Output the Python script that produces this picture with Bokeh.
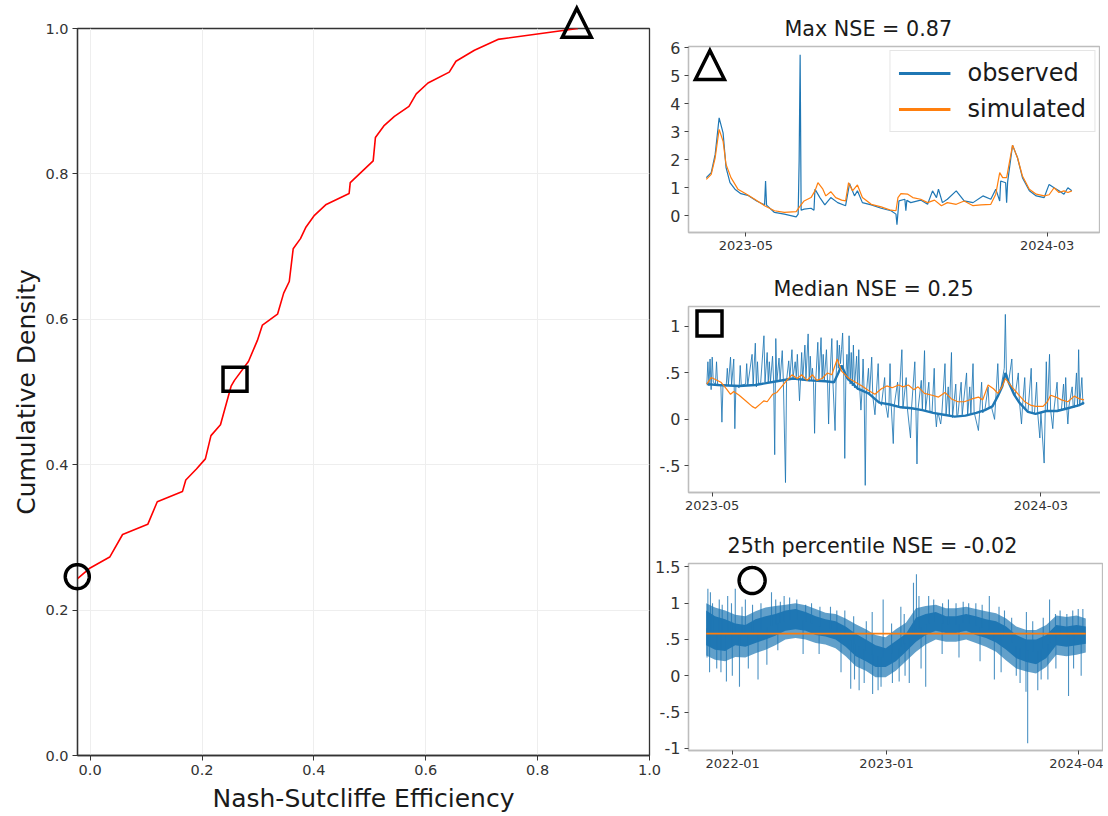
import numpy as np
import pandas as pd
from bokeh.plotting import figure
from bokeh.layouts import row, column
from bokeh.models import (Range1d, FixedTicker, DatetimeTickFormatter, Legend, LegendItem,
                          PolyAnnotation)
from bokeh.embed import file_html
from bokeh.resources import INLINE

FONT = "DejaVu Sans"
BLUE = "#1f77b4"
ORANGE = "#ff7f0e"

# ---------------- CDF panel ----------------
cdf_nse = [-0.023, 0.0, 0.035, 0.058, 0.103, 0.12, 0.165, 0.171, 0.19, 0.206, 0.216,
           0.233, 0.252, 0.258, 0.283, 0.299, 0.308, 0.335, 0.346, 0.356, 0.363, 0.376,
           0.386, 0.401, 0.422, 0.463, 0.465, 0.506, 0.510, 0.525, 0.544, 0.57, 0.583,
           0.604, 0.642, 0.654, 0.687, 0.729, 0.872]
cdf_density = [0.243, 0.258, 0.273, 0.304, 0.318, 0.349, 0.363, 0.379, 0.394, 0.408, 0.44,
               0.455, 0.508, 0.516, 0.542, 0.571, 0.592, 0.607, 0.636, 0.652, 0.697, 0.711,
               0.727, 0.743, 0.758, 0.773, 0.788, 0.818, 0.85, 0.866, 0.879, 0.893, 0.91,
               0.925, 0.94, 0.955, 0.970, 0.985, 1.0]
marker_nse = [0.87, 0.259, -0.023]
marker_density = [1.008, 0.5175, 0.246]
marker_shapes = ["triangle", "square", "circle"]
marker_sizes = [29, 24, 24]
cdf_ticks = [0.0, 0.2, 0.4, 0.6, 0.8, 1.0]
cdf_tick_labels = ["0.0", "0.2", "0.4", "0.6", "0.8", "1.0"]

# ---------------- top panel (max NSE) ----------------
top_title = "Max NSE = 0.87"
top_start = "2023-03-22"
top_obs_day = [0, 5, 9, 13, 17, 20, 24, 29, 35, 42, 51, 59, 60, 61, 69, 79, 91, 93, 94, 95, 96,
               99, 106, 109, 110, 115, 120, 126, 133, 141, 145, 150, 153, 158, 167, 177, 187,
               192, 193, 195, 201, 202, 203, 207, 217, 224, 229, 233, 235, 239, 244, 253, 261,
               270, 280, 288, 293, 297, 298, 303, 304, 305, 310, 315, 320, 327, 334, 342, 347,
               352, 357, 362, 366, 370]
top_obs_val = [1.36, 1.54, 2.19, 3.49, 2.96, 1.72, 1.18, 0.95, 0.79, 0.73, 0.53, 0.39, 1.24,
               0.38, 0.12, 0.06, -0.04, 0.06, 1.98, 5.74, 0.2, 0.24, 0.27, 0.20, 0.95, 0.65,
               0.39, 0.65, 0.47, 0.36, 1.15, 0.71, 0.89, 0.47, 0.39, 0.27, 0.18, 0.06, -0.32,
               0.53, 0.59, 0.18, 0.55, 0.47, 0.56, 0.41, 0.89, 0.65, 0.95, 0.47, 0.59, 0.89,
               0.53, 0.47, 0.71, 0.59, 0.95, 0.53, 1.24, 1.18, 0.47, 1.2, 2.52, 2.07, 1.36,
               0.89, 0.71, 0.65, 1.12, 1.0, 0.89, 0.77, 1.0, 0.89]
top_sim_day = [0, 5, 9, 13, 17, 20, 25, 32, 40, 49, 59, 69, 79, 91, 94, 99, 106, 110, 113, 118,
               121, 126, 131, 137, 141, 144, 148, 153, 158, 167, 177, 187, 192, 194, 197, 204,
               209, 217, 224, 231, 238, 244, 253, 261, 270, 278, 288, 293, 297, 300, 304, 310,
               315, 320, 327, 334, 342, 347, 352, 357, 362, 366, 370]
top_sim_val = [1.3, 1.48, 2.07, 3.08, 2.66, 1.83, 1.36, 0.95, 0.79, 0.59, 0.36, 0.18, 0.12,
               0.15, 0.3, 0.53, 0.65, 0.89, 1.18, 0.95, 0.71, 0.86, 0.65, 0.56, 0.53, 1.18,
               0.89, 1.1, 0.65, 0.41, 0.32, 0.2, 0.18, 0.65, 0.79, 0.77, 0.65, 0.59, 0.47,
               0.56, 0.36, 0.47, 0.41, 0.53, 0.36, 0.39, 0.41, 0.77, 1.54, 1.36, 1.36, 2.52,
               2.07, 1.42, 0.95, 0.77, 0.71, 0.75, 1.0, 0.83, 0.89, 0.83, 0.89]
top_xlim = ["2023-03-04", "2024-04-23"]
top_ylim = [-0.595, 6.036]
top_xticks = ["2023-05-01", "2024-03-01"]
top_yticks = [0, 1, 2, 3, 4, 5, 6]
top_ylabels = ["0", "1", "2", "3", "4", "5", "6"]
top_marker = ["2023-03-25 16:00", 5.376, "triangle", 29]
legend_labels = ["observed", "simulated"]

# ---------------- middle panel (median NSE) ----------------
mid_title = "Median NSE = 0.25"
mid_start = "2023-04-26"
# observed: (day since start, value)
mid_obs = [
    (0, 0.38), (1, 0.62), (2, 0.36), (3, 0.65), (4, 0.32), (5, 0.67), (6, 0.40), (8, 0.38),
    (9, 0.62), (10, 0.38), (13, 0.37), (14, -0.03), (15, 0.37), (18, 0.36), (19, 0.55),
    (20, 0.37), (22, 0.67), (23, 0.37), (25, 0.65), (26, -0.10), (27, 0.37), (30, 0.34),
    (31, 0.58), (32, 0.36), (33, 0.37), (36, 0.38), (37, 0.60), (38, 0.37), (42, 0.70),
    (43, 0.37), (45, 0.82), (46, 0.35), (47, 0.62), (48, 0.38), (50, 0.40), (53, 0.90),
    (54, 0.40), (56, 0.72), (57, 0.40), (58, 0.62), (59, 0.40), (61, 0.68), (62, 0.41),
    (63, -0.38), (64, 0.87), (65, 0.41), (67, 0.66), (68, 0.42), (70, 0.74), (71, 0.42),
    (73, -0.68), (74, 0.42), (76, 0.63), (77, 0.44), (79, 0.75), (80, 0.45), (82, 0.62),
    (83, 0.46), (84, 0.70), (85, 0.45), (86, 0.20), (87, 0.44), (88, 0.72), (89, 0.42),
    (91, 0.80), (92, 0.44), (94, 0.92), (95, 0.41), (96, 0.68), (97, 0.42), (98, 0.55),
    (99, 0.40), (100, -0.15), (101, 0.40), (103, 0.83), (104, 0.42), (106, 0.88), (107, 0.43),
    (108, 0.70), (109, 0.42), (111, 0.75), (112, 0.41), (113, -0.05), (114, 0.40), (116, 0.87),
    (117, 0.40), (119, -0.12), (120, 0.45), (121, 0.85), (122, 0.55), (123, 0.80), (124, 0.60),
    (125, 0.75), (126, 0.93), (127, 0.50), (128, -0.42), (129, 0.45), (130, 0.70), (131, 0.42),
    (132, 0.90), (133, 0.38), (134, 0.72), (135, 0.36), (136, 0.80), (137, 0.34), (139, 0.68),
    (140, 0.32), (141, 0.75), (142, 0.31), (143, 0.10), (144, 0.30), (145, 0.65), (146, 0.29),
    (147, -0.71), (148, 0.28), (150, 0.55), (151, 0.27), (153, 0.67), (154, 0.25), (156, 0.05),
    (157, 0.22), (159, 0.60), (160, 0.20), (162, 0.15), (165, 0.45), (166, 0.16), (168, 0.02),
    (169, 0.16), (170, 0.60), (171, 0.17), (173, -0.26), (174, 0.16), (177, 0.40), (178, 0.14),
    (181, 0.75), (182, 0.12), (185, 0.45), (186, 0.13), (189, -0.20), (190, 0.13), (193, 0.62),
    (194, 0.12), (195, -0.48), (196, 0.11), (199, 0.42), (200, 0.10), (202, 0.74), (203, 0.10),
    (206, 0.40), (207, 0.09), (209, 0.08), (211, 0.55), (212, 0.07), (213, -0.08), (214, 0.06),
    (215, 0.05), (217, -0.05), (218, 0.05), (221, 0.60), (222, 0.05), (224, 0.35), (225, 0.04),
    (227, 0.72), (228, 0.02), (231, 0.38), (232, 0.04), (233, 0.05), (236, 0.40), (237, 0.05),
    (241, 0.50), (242, 0.04), (244, 0.35), (245, 0.06), (247, 0.60), (248, 0.08), (252, -0.12),
    (253, 0.05), (255, 0.40), (256, 0.07), (258, 0.10), (261, 0.35), (262, 0.12), (264, 0.14),
    (267, 0.00), (268, 0.20), (270, 0.60), (271, 0.28), (273, 0.35), (276, 0.55), (277, 1.13),
    (278, 0.50), (280, 0.40), (283, 0.65), (284, 0.32), (286, 0.25), (289, 0.50), (290, 0.20),
    (292, -0.05), (293, 0.15), (295, 0.45), (296, 0.10), (298, 0.08), (301, 0.55), (302, 0.07),
    (304, 0.06), (306, 0.40), (307, 0.07), (309, -0.20), (310, 0.07), (313, -0.47), (314, 0.09),
    (315, 0.62), (316, 0.10), (318, 0.70), (319, 0.10), (321, -0.10), (322, 0.09), (325, 0.40),
    (326, 0.10), (329, 0.10), (331, 0.38), (332, 0.12), (333, 0.45), (334, 0.13), (335, -0.05),
    (336, 0.14), (339, 0.35), (340, 0.13), (341, 0.13), (343, 0.50), (344, 0.14), (345, 0.75),
    (346, 0.15), (348, 0.45), (349, 0.16), (350, 0.18)]
# dense daily trace of the observed series (the dark core of the line)
mid_obs_core = [
    (0, 0.38), (10, 0.37), (30, 0.36), (45, 0.37), (55, 0.39), (65, 0.41), (80, 0.44),
    (95, 0.42), (110, 0.41), (118, 0.40), (122, 0.50), (125, 0.58), (130, 0.45), (140, 0.33),
    (150, 0.28), (160, 0.18), (170, 0.16), (180, 0.13), (190, 0.12), (200, 0.10), (210, 0.07),
    (220, 0.05), (230, 0.03), (240, 0.04), (250, 0.07), (258, 0.10), (265, 0.14), (270, 0.25),
    (274, 0.35), (277, 0.50), (280, 0.40), (285, 0.27), (290, 0.18), (298, 0.08), (305, 0.06),
    (315, 0.09), (325, 0.09), (335, 0.12), (345, 0.15), (350, 0.18)]
mid_sim_day = [0, 4, 8, 13, 18, 22, 25, 30, 36, 42, 45, 50, 53, 56, 61, 65, 70, 75, 79, 84, 88,
               93, 98, 102, 107, 112, 116, 121, 125, 132, 138, 144, 150, 156, 162, 167, 172,
               178, 182, 187, 192, 196, 202, 209, 215, 221, 227, 233, 239, 246, 252, 256, 261,
               266, 270, 274, 277, 283, 289, 295, 301, 305, 312, 316, 319, 324, 329, 335, 341,
               346, 350]
mid_sim_val = [0.38, 0.45, 0.43, 0.40, 0.33, 0.27, 0.30, 0.26, 0.20, 0.14, 0.12, 0.17, 0.20,
               0.19, 0.27, 0.29, 0.36, 0.43, 0.48, 0.44, 0.48, 0.42, 0.48, 0.42, 0.44, 0.50,
               0.48, 0.65, 0.52, 0.44, 0.40, 0.36, 0.31, 0.27, 0.33, 0.36, 0.34, 0.37, 0.35,
               0.37, 0.32, 0.35, 0.28, 0.26, 0.24, 0.29, 0.22, 0.19, 0.19, 0.22, 0.24, 0.21,
               0.37, 0.33, 0.28, 0.35, 0.44, 0.35, 0.27, 0.19, 0.15, 0.14, 0.14, 0.19, 0.26,
               0.24, 0.21, 0.19, 0.25, 0.22, 0.21]
mid_xlim = ["2023-04-09", "2024-04-29"]
mid_ylim = [-0.787, 1.215]
mid_xticks = ["2023-05-01", "2024-03-01"]
mid_yticks = [-0.5, 0, 0.5, 1]
mid_ylabels = ["-.5", "0", ".5", "1"]
mid_marker = ["2023-04-28 12:00", 1.031, "square", 25]

# ---------------- bottom panel (25th percentile NSE) ----------------
bot_title = "25th percentile NSE = -0.02"
bot_start = "2021-10-30"
bot_band_day = [0, 21, 45, 69, 93, 117, 141, 164, 188, 212, 236, 260, 283, 307, 331, 355, 379,
                402, 426, 450, 474, 498, 521, 545, 569, 593, 617, 640, 664, 688, 712, 736, 760,
                783, 807, 831, 855, 879, 901]
bot_core_hi = [0.90, 0.82, 0.78, 0.72, 0.70, 0.78, 0.82, 0.85, 0.90, 0.92, 0.88, 0.82, 0.78,
               0.75, 0.68, 0.58, 0.50, 0.42, 0.38, 0.48, 0.58, 0.80, 0.85, 0.88, 0.82, 0.82,
               0.85, 0.82, 0.78, 0.75, 0.68, 0.56, 0.50, 0.50, 0.56, 0.70, 0.68, 0.70, 0.68]
bot_core_lo = [0.42, 0.36, 0.34, 0.42, 0.40, 0.45, 0.50, 0.55, 0.62, 0.64, 0.62, 0.56, 0.54,
               0.50, 0.40, 0.27, 0.20, 0.12, 0.12, 0.20, 0.33, 0.47, 0.56, 0.62, 0.59, 0.59,
               0.62, 0.56, 0.52, 0.46, 0.36, 0.24, 0.19, 0.16, 0.24, 0.42, 0.40, 0.42, 0.44]
bot_outer_hi = [1.0, 0.94, 0.90, 0.84, 0.82, 0.89, 0.94, 0.96, 0.98, 1.0, 0.97, 0.92, 0.87,
                0.85, 0.79, 0.71, 0.64, 0.56, 0.53, 0.64, 0.73, 0.93, 0.96, 0.98, 0.93, 0.93,
                0.95, 0.92, 0.89, 0.86, 0.79, 0.68, 0.63, 0.63, 0.70, 0.83, 0.81, 0.83, 0.79]
bot_outer_lo = [0.28, 0.22, 0.2, 0.26, 0.25, 0.31, 0.36, 0.42, 0.50, 0.52, 0.50, 0.45, 0.43,
                0.38, 0.27, 0.13, 0.07, -0.02, -0.02, 0.07, 0.20, 0.33, 0.43, 0.50, 0.47, 0.47,
                0.50, 0.45, 0.40, 0.33, 0.21, 0.10, 0.06, 0.03, 0.12, 0.29, 0.27, 0.29, 0.32]
# spikes leaving the dense band: (day since start, value)
bot_spikes = [
    (2, 0.25), (4, 1.2), (8, 0.05), (10, 1.15), (15, 1.0), (25, 0.1), (31, 1.05), (35, 0.05),
    (38, 0.98), (48, -0.08), (51, 1.1), (60, 1.0), (62, 0.0), (69, 1.2), (79, -0.15), (85, 0.95),
    (93, 1.05), (100, 0.1), (110, 0.98), (123, -0.05), (130, 1.0), (144, 0.15), (155, 1.15),
    (165, 1.05), (170, 0.35), (176, 1.02), (185, 1.1), (198, 1.08), (215, 1.05), (230, 0.3),
    (236, 0.98), (250, 1.0), (268, 0.3), (270, 0.95), (295, 0.95), (310, 0.9), (320, 0.05),
    (329, 0.9), (343, -0.18), (350, 0.82), (352, -0.05), (363, -0.2), (375, -0.1), (380, 0.75),
    (394, 0.88), (395, -0.25), (408, -0.2), (415, -0.15), (420, 1.05), (440, 0.72),
    (442, -0.1), (458, -0.08), (462, 0.95), (470, 0.85), (472, 0.0), (482, -0.1), (492, 1.28),
    (499, 1.4), (505, 1.1), (510, 0.1), (521, -0.15), (528, 1.1), (540, 1.05), (560, 0.3),
    (561, 1.0), (575, 1.05), (593, 1.0), (600, 0.25), (610, 1.02), (623, 1.0), (640, 1.0),
    (650, 0.2), (655, 0.98), (672, 1.1), (684, -0.05), (695, 0.95), (700, 0.05), (708, 0.9),
    (725, 0.8), (736, 0.0), (745, -0.1), (759, -0.22), (760, 0.88), (763, -0.93), (775, 0.75),
    (787, -0.2), (795, -0.05), (800, 0.8), (811, -0.05), (815, 1.05), (829, 0.85), (830, 0.1),
    (840, 0.9), (856, 0.85), (860, -0.28), (870, 0.9), (872, 0.1), (883, 0.92), (890, 0.0),
    (894, 0.92)]
bot_sim_day = [0, 901]
bot_sim_val = [0.58, 0.58]
bot_xlim = ["2021-09-18", "2024-05-30"]
bot_ylim = [-1.03, 1.547]
bot_xticks = ["2022-01-01", "2023-01-01", "2024-04-01"]
bot_yticks = [-1, -0.5, 0, 0.5, 1, 1.5]
bot_ylabels = ["-1", "-.5", "0", ".5", "1", "1.5"]
bot_marker = ["2022-02-16", 1.312, "circle", 26]


def to_dates(start, days):
    return pd.to_datetime(start) + pd.to_timedelta(list(days), unit="D")


def ms(d):
    return pd.Timestamp(d).value / 1e6


def no_frame_align(p):
    if "frame_align" in p.properties():
        p.frame_align = False


def add_marker(p, shape, cx, cy, size_px, ux, uy):
    """Hollow matplotlib-style marker drawn as a polygon annotation.
    ux, uy: data units per screen pixel of the figure's frame."""
    h = size_px / 2.0
    if shape == "triangle":
        pts = [(0, h), (-h, -h), (h, -h)]
    elif shape == "square":
        pts = [(-h, -h), (h, -h), (h, h), (-h, h)]
    else:
        t = np.linspace(0, 2 * np.pi, 60, endpoint=False)
        pts = list(zip(h * np.cos(t), h * np.sin(t)))
    xs = [cx + px * ux for px, _ in pts]
    ys = [cy + py * uy for _, py in pts]
    p.add_layout(PolyAnnotation(xs=xs, ys=ys, fill_alpha=0, line_color="black",
                                line_alpha=1.0, line_width=3.5, line_join="miter"))


# ---------------- left CDF figure ----------------
L_FW, L_FH = 572, 727
L_BL, L_BR, L_BT, L_BB = 69, 13, 20, 60
L_W = L_BL + L_FW + L_BR
L_H = L_BT + L_FH + L_BB
L_X0 = cdf_nse[0] + 0.0004
UX = (1.0 - L_X0) / L_FW
UY = 1.0 / L_FH
left = figure(frame_width=L_FW, frame_height=L_FH, min_border_left=L_BL, min_border_right=L_BR,
              min_border_top=L_BT, min_border_bottom=L_BB,
              x_range=Range1d(L_X0, 1.0), y_range=Range1d(0, 1),
              output_backend="svg", toolbar_location=None)
no_frame_align(left)
left.line(cdf_nse, cdf_density, color="#ff0000", line_width=1.6)
left.xaxis.ticker = FixedTicker(ticks=cdf_ticks)
left.yaxis.ticker = FixedTicker(ticks=cdf_ticks)
left.xaxis.major_label_overrides = dict(zip(cdf_ticks, cdf_tick_labels))
left.yaxis.major_label_overrides = dict(zip(cdf_ticks, cdf_tick_labels))
left.xaxis.axis_label = "Nash-Sutcliffe Efficiency"
left.yaxis.axis_label = "Cumulative Density"
for ax in (left.xaxis, left.yaxis):
    ax.axis_label_text_font = FONT
    ax.axis_label_text_font_size = "25px"
    ax.axis_label_text_font_style = "normal"
    ax.axis_label_text_color = "#1a1a1a"
    ax.major_label_text_font = FONT
    ax.major_label_text_font_size = "14.5px"
    ax.major_label_text_color = "#333333"
    ax.axis_line_color = "#333333"
    ax.axis_line_width = 1.3
    ax.major_tick_line_color = "#333333"
    ax.major_tick_in = 0
    ax.major_tick_out = 5
    ax.minor_tick_line_color = None
    ax.major_label_standoff = 4
left.xaxis.axis_label_standoff = 6
left.yaxis.axis_label_standoff = 1
left.grid.grid_line_color = "#eeeeee"
left.outline_line_color = "#333333"
left.outline_line_width = 1.3

# transparent overlay with the same scales but a larger frame, so that the
# markers sitting on the axes edges are not clipped by the CDF frame
O_BL, O_BT = 40, 0
O_FW, O_FH = 612, 790
dx_left = (L_BL - O_BL)
dy_top = (L_BT + 8 - O_BT)         # overlay is lifted over the page's top margin
overlay = figure(frame_width=O_FW, frame_height=O_FH, min_border_left=O_BL,
                 min_border_right=L_W - O_BL - O_FW, min_border_top=O_BT, min_border_bottom=0,
                 x_range=Range1d(L_X0 - dx_left * UX, L_X0 + (O_FW - dx_left) * UX),
                 y_range=Range1d(1.0 - (O_FH - dy_top) * UY, 1.0 + dy_top * UY),
                 x_axis_location=None, y_axis_location=None,
                 output_backend="svg", toolbar_location=None,
                 border_fill_color=None, background_fill_color=None,
                 margin=(-(L_H + 8), 0, 0, 0))
no_frame_align(overlay)
overlay.grid.visible = False
overlay.outline_line_color = None
for xs, ys, shp, sz in zip(marker_nse, marker_density, marker_shapes, marker_sizes):
    add_marker(overlay, shp, xs, ys, sz, UX, UY)


# ---------------- right time-series figures ----------------
def ts_fig(title, title_offset, xlim, ylim, xticks, yticks, ylabels, bl, fw, br, bt, fh, bb):
    p = figure(x_axis_type="datetime", frame_width=fw, frame_height=fh,
               min_border_left=bl, min_border_right=br, min_border_top=bt, min_border_bottom=bb,
               x_range=Range1d(pd.Timestamp(xlim[0]), pd.Timestamp(xlim[1])),
               y_range=Range1d(ylim[0], ylim[1]),
               output_backend="svg", toolbar_location=None, border_fill_color=None)
    p.title.text = title
    p.title.align = "left"
    p.title.offset = title_offset
    p.title.text_font = FONT
    p.title.text_font_size = "20.7px"
    p.title.text_font_style = "normal"
    p.title.text_color = "#1a1a1a"
    p.title.standoff = 12
    p.xaxis.ticker = FixedTicker(ticks=[ms(t) for t in xticks])
    fmt = "%Y-%m"
    p.xaxis.formatter = DatetimeTickFormatter(years=fmt, months=fmt, days=fmt, hours=fmt,
                                              hourmin=fmt, minutes=fmt, minsec=fmt,
                                              seconds=fmt, milliseconds=fmt,
                                              microseconds=fmt)
    p.yaxis.ticker = FixedTicker(ticks=yticks)
    p.yaxis.major_label_overrides = dict(zip(yticks, ylabels))
    p.xaxis.major_label_text_font_size = "13px"
    p.yaxis.major_label_text_font_size = "16px"
    for ax in (p.xaxis, p.yaxis):
        ax.major_label_text_font = FONT
        ax.major_label_text_color = "#333333"
        ax.axis_line_color = "#bdbdbd"
        ax.axis_line_width = 1.3
        ax.major_tick_line_color = "#444444"
        ax.major_tick_in = 0
        ax.major_tick_out = 4
        ax.minor_tick_line_color = None
        ax.major_label_standoff = 4
    p.grid.visible = False
    p.outline_line_color = "#bdbdbd"
    p.outline_line_width = 1.3
    return p


def ts_marker(p, marker, xlim, ylim, fw, fh):
    ux = (ms(xlim[1]) - ms(xlim[0])) / fw
    uy = (ylim[1] - ylim[0]) / fh
    add_marker(p, marker[2], ms(marker[0]), marker[1], marker[3], ux, uy)


top = ts_fig(top_title, 96, top_xlim, top_ylim, top_xticks, top_yticks, top_ylabels,
             38, 411, 1, 38, 186, 28)
top_obs_x = to_dates(top_start, top_obs_day)
top_sim_x = to_dates(top_start, top_sim_day)
top.line(top_obs_x, top_obs_val, color=BLUE, line_width=1.2)
top.line(top_sim_x, top_sim_val, color=ORANGE, line_width=1.2)
ts_marker(top, top_marker, top_xlim, top_ylim, 411, 186)
# legend proxies (single point -> draws nothing in the plot, thick line in the legend)
leg_obs = top.line(top_obs_x[:1], top_obs_val[:1], color=BLUE, line_width=3)
leg_sim = top.line(top_sim_x[:1], top_sim_val[:1], color=ORANGE, line_width=3)
legend = Legend(items=[LegendItem(label=legend_labels[0], renderers=[leg_obs]),
                       LegendItem(label=legend_labels[1], renderers=[leg_sim])],
                location="top_right", margin=4, padding=8, spacing=8,
                glyph_width=52, glyph_height=28, label_height=28, label_standoff=17,
                label_text_font=FONT, label_text_font_size="24px",
                label_text_color="#1a1a1a", border_line_color="#cccccc",
                border_line_width=1.2, background_fill_alpha=0.85)
top.add_layout(legend)

mid = ts_fig(mid_title, 85, mid_xlim, mid_ylim, mid_xticks, mid_yticks, mid_ylabels,
             33, 416, 1, 46, 186, 28)
mid_obs_day = [d for d, _ in mid_obs]
mid_obs_val = [v for _, v in mid_obs]
mid.line(to_dates(mid_start, mid_obs_day), mid_obs_val, color=BLUE, line_width=1.0,
         line_alpha=0.85)
mid.line(to_dates(mid_start, [d for d, _ in mid_obs_core]), [v for _, v in mid_obs_core],
         color=BLUE, line_width=2.4)
mid.line(to_dates(mid_start, mid_sim_day), mid_sim_val, color=ORANGE, line_width=1.2)
ts_marker(mid, mid_marker, mid_xlim, mid_ylim, 416, 186)

bot = ts_fig(bot_title, 39, bot_xlim, bot_ylim, bot_xticks, bot_yticks, bot_ylabels,
             33, 415, 2, 43, 187, 58)
band_x = to_dates(bot_start, bot_band_day)
bot.varea(x=band_x, y1=bot_outer_lo, y2=bot_outer_hi, fill_color=BLUE, fill_alpha=0.7)
bot.varea(x=band_x, y1=bot_core_lo, y2=bot_core_hi, fill_color=BLUE, fill_alpha=1.0)
spike_day = [d for d, _ in bot_spikes]
spike_val = [v for _, v in bot_spikes]
band_mid = (np.array(bot_core_lo) + np.array(bot_core_hi)) / 2
spike_base = np.interp(spike_day, bot_band_day, band_mid)
spike_x = to_dates(bot_start, spike_day)
bot.segment(x0=spike_x, y0=spike_base, x1=spike_x, y1=spike_val, color=BLUE,
            line_width=1.1, line_alpha=0.8)
bot.line(to_dates(bot_start, bot_sim_day), bot_sim_val, color=ORANGE, line_width=1.6)
ts_marker(bot, bot_marker, bot_xlim, bot_ylim, 415, 187)

left_group = column(left, overlay)
right_col = column(top, mid, bot, margin=(0, 0, 0, -12))
layout = row(left_group, right_col, margin=(8, 0, 0, 8))

open("out.html", "w").write(file_html(layout, INLINE))
